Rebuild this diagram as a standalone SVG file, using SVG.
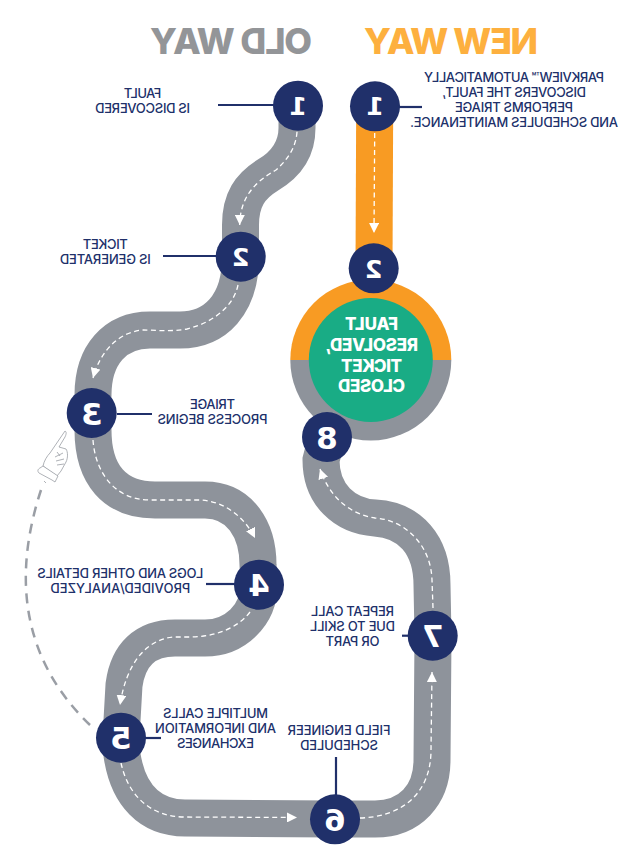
<svg xmlns="http://www.w3.org/2000/svg" width="629" height="867" viewBox="0 0 629 867">
<style>
  .road { fill: none; stroke: #8e939b; stroke-width: 37; }
  .road-new { fill: none; stroke: #f89b23; stroke-width: 37; }
  .lane { fill: none; stroke: #fff; stroke-width: 1.3; stroke-dasharray: 5 3.5; marker-end: url(#tip); }
  .dot { fill: #20306a; }
  .lead { stroke: #20306a; stroke-width: 2.2; fill: none; }
  .num { font: 700 31px "DejaVu Sans", sans-serif; fill: #fff; text-anchor: middle; }
  .num.small { font-size: 25.5px; }
  .lbl { font: 500 13px Inter, "Liberation Sans", sans-serif; fill: #20306a; text-anchor: middle; }
  .head { font: 800 36px Inter, "Liberation Sans", sans-serif; text-anchor: middle; }
  .hub { font: 800 17px Inter, "Liberation Sans", sans-serif; fill: #fff; text-anchor: middle; }
</style>
<defs>
  <marker id="tip" viewBox="0 0 10 10" refX="10" refY="5" markerWidth="10" markerHeight="10" markerUnits="userSpaceOnUse" orient="auto">
    <path d="M0,0 L10,5 L0,10 Z" fill="#fff"/>
  </marker>
</defs>

<g id="titles">
  <text class="head" fill="#fdb03f" textLength="174" transform="translate(451,54) scale(-1,1)">NEW WAY</text>
  <text class="head" fill="#939598" textLength="162" transform="translate(231,54) scale(-1,1)">OLD WAY</text>
</g>

<g id="hub-ring">
  <path d="M290.3,360 A80.5,80.5 0 0 1 451.3,360 Z" fill="#f89b23"/>
  <path d="M290.3,360 A80.5,80.5 0 0 0 451.3,360 Z" fill="#8e939b"/>
</g>

<g id="connectors">
  <path class="road-new" d="M374.7,106 L374,268"/>
  <path class="road" d="M297,105 L297,128 C297,150 285,165 268,175 C250,186 240.5,200 240.5,225 L240.5,257 C240.5,305 215,330 180,330 L150,330 C115,330 93,355 93,395 L92,413 L93,430 C93,475 115,500 155,500 L205,500 C240,500 258,530 258,565 L259,585 C259,615 235,638 205,638 L175,638 C145,638 128,655 124,685 L121,738 L122,755 C128,795 150,818 185,818 L335,819 L375,819 C410,819 432,795 432,760 L433,636 L432,585 C432,545 410,520 375,518 C345,516 321,495 321,460 L327,437"/>

  <path class="lane" d="M374.7,133 L374,233"/>
  <path class="lane" d="M297,131.7 C296,148 287,160 276,170 C258,180 240,195 239.7,225"/>
  <path class="lane" d="M238,285 C234,305 215,322 187,329 C170,332 155,330 143,330 C118,332 100,352 93,378"/>
  <path class="lane" d="M93,440 C95,470 113,500 150,500 L200,500 C225,501 245,518 255,538"/>
  <path class="lane" d="M250,612 C238,628 215,637 190,637 L173,637 C145,640 126,665 120,705"/>
  <path class="lane" d="M121,763 C128,795 150,817 185,817 L297,817.5"/>
  <path class="lane" d="M360,818 C400,817 431,795 431,750 L432,672"/>
  <path class="lane" d="M433,608 L432,580 C431,545 405,520 375,518 C350,514 330,498 320,469"/>

  <path d="M41,490 C18,560 12,650 90,725" fill="none" stroke="#9a9ea5" stroke-width="2.5" stroke-dasharray="10 7.5"/>
</g>

<g id="pointing-hand" fill="#fff" stroke="#9a9ea5" stroke-width="0.8" stroke-linejoin="round">
  <path d="M65,431 C67,432 66,435 65,437 L59,447 L66,449 C68,452 68,458 66,462 L61,471 L57,476 L47,469 L43,466 C44,461 47,456 50,453 Z"/>
  <path d="M43,466 L58,476 L55,482 L52,480 L39,473 C37,471 38,469 40,468 Z"/>
  <path d="M57,452 L60,456 M55,457 L63,453 M56,461 L64,459 M57,465 L64,464 M44,481 L46,483" fill="none"/>
</g>

<g id="hub">
  <circle cx="370.8" cy="360" r="62" fill="#19ac85"/>
  <g transform="translate(371.5,0) scale(-1,1)">
    <text class="hub" y="330" textLength="53">FAULT</text>
    <text class="hub" y="351" textLength="93">RESOLVED,</text>
    <text class="hub" y="371.7" textLength="61">TICKET</text>
    <text class="hub" y="392" textLength="67">CLOSED</text>
  </g>
</g>

<g id="old-1">
  <path class="lead" d="M218,105 H275"/>
  <circle class="dot" cx="298" cy="105.7" r="25"/>
  <text class="num small" transform="translate(298,114.5) scale(-1,1)">1</text>
  <g transform="translate(142.5,0) scale(-1,1)">
    <text class="lbl" y="98.3" textLength="37.5">FAULT</text>
    <text class="lbl" y="113.3" textLength="95">IS DISCOVERED</text>
  </g>
</g>

<g id="new-1">
  <path class="lead" d="M398,107 H422"/>
  <circle class="dot" cx="375" cy="106.3" r="25"/>
  <text class="num small" transform="translate(375,115) scale(-1,1)">1</text>
  <g transform="translate(514,0) scale(-1,1)">
    <text class="lbl" y="81.7" textLength="180">PARKVIEW™ AUTOMATICALLY</text>
    <text class="lbl" y="96.7" textLength="144">DISCOVERS THE FAULT,</text>
    <text class="lbl" y="111.7" textLength="118">PERFORMS TRIAGE</text>
    <text class="lbl" y="126.7" textLength="208">AND SCHEDULES MAINTENANCE.</text>
  </g>
</g>

<g id="old-2">
  <path class="lead" d="M163,256 H217"/>
  <circle class="dot" cx="240.7" cy="256.7" r="25"/>
  <text class="num small" transform="translate(240.7,266) scale(-1,1)">2</text>
  <g transform="translate(105.3,0) scale(-1,1)">
    <text class="lbl" y="249" textLength="45">TICKET</text>
    <text class="lbl" y="263.5" textLength="91">IS GENERATED</text>
  </g>
</g>

<g id="new-2">
  <circle class="dot" cx="373.7" cy="268.3" r="25"/>
  <text class="num small" transform="translate(373.5,277.5) scale(-1,1)">2</text>
</g>

<g id="old-3">
  <path class="lead" d="M117,414 H152"/>
  <circle class="dot" cx="91.7" cy="413" r="25"/>
  <text class="num" transform="translate(91.7,424.5) scale(-1,1)">3</text>
  <g transform="translate(212.5,0) scale(-1,1)">
    <text class="lbl" y="409.3" textLength="45">TRIAGE</text>
    <text class="lbl" y="424" textLength="110">PROCESS BEGINS</text>
  </g>
</g>

<g id="old-4">
  <path class="lead" d="M206,584 H235"/>
  <circle class="dot" cx="259" cy="584.7" r="25"/>
  <text class="num" transform="translate(259,596) scale(-1,1)">4</text>
  <g transform="translate(120.3,0) scale(-1,1)">
    <text class="lbl" y="578" textLength="166">LOGS AND OTHER DETAILS</text>
    <text class="lbl" y="593" textLength="140">PROVIDED/ANALYZED</text>
  </g>
</g>

<g id="old-5">
  <path class="lead" d="M145,738 H161"/>
  <circle class="dot" cx="121" cy="737.7" r="25"/>
  <text class="num" transform="translate(121,749) scale(-1,1)">5</text>
  <g transform="translate(215.5,0) scale(-1,1)">
    <text class="lbl" y="717.7" textLength="105">MULTIPLE CALLS</text>
    <text class="lbl" y="732.7" textLength="121">AND INFORMATION</text>
    <text class="lbl" y="747.7" textLength="77">EXCHANGES</text>
  </g>
</g>

<g id="old-6">
  <path class="lead" d="M336,757 V796"/>
  <circle class="dot" cx="335" cy="819.3" r="25"/>
  <text class="num" transform="translate(335,830.5) scale(-1,1)">6</text>
  <g transform="translate(339,0) scale(-1,1)">
    <text class="lbl" y="735" textLength="103">FIELD ENGINEER</text>
    <text class="lbl" y="750" textLength="78">SCHEDULED</text>
  </g>
</g>

<g id="old-7">
  <path class="lead" d="M402,635.7 H410"/>
  <circle class="dot" cx="432.7" cy="635.7" r="25"/>
  <text class="num" transform="translate(432.7,647) scale(-1,1)">7</text>
  <g transform="translate(352.5,0) scale(-1,1)">
    <text class="lbl" y="616" textLength="83">REPEAT CALL</text>
    <text class="lbl" y="631" textLength="85">DUE TO SKILL</text>
    <text class="lbl" y="646" textLength="54">OR PART</text>
  </g>
</g>

<g id="old-8">
  <circle class="dot" cx="327" cy="437" r="25"/>
  <text class="num" transform="translate(327,448.5) scale(-1,1)">8</text>
</g>
</svg>
